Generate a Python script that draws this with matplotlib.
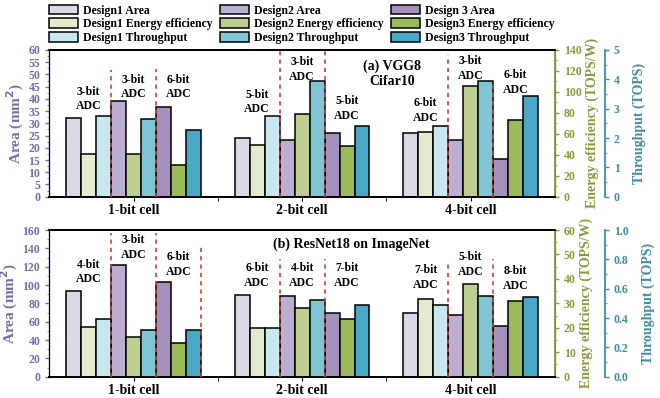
import numpy as np
import matplotlib
matplotlib.use("Agg")
import matplotlib.pyplot as plt
from matplotlib.patches import Patch
from matplotlib.ticker import MultipleLocator

plt.rcParams['font.family'] = ['Liberation Serif', 'DejaVu Serif']
plt.rcParams['font.weight'] = 'bold'

cells = ['1-bit cell', '2-bit cell', '4-bit cell']
designs = ['Design1', 'Design2', 'Design3']

# VGG8 / Cifar10
vgg_area = [[32.0, 24.1, 26.1], [39.0, 23.1, 23.1], [36.6, 26.2, 15.5]]
vgg_ee = [[41, 49, 62], [41, 79, 106], [30.5, 48, 73.5]]
vgg_tp = [[2.74, 2.76, 2.40], [2.65, 3.94, 3.94], [2.27, 2.41, 3.44]]
vgg_adc = [['3-bit', '5-bit', '6-bit'], ['3-bit', '3-bit', '3-bit'], ['6-bit', '5-bit', '6-bit']]

# ResNet18 / ImageNet
res_area = [[93.1, 88.8, 69.1], [121.5, 88.0, 67.6], [103.3, 69.1, 55.3]]
res_ee = [[20.5, 20.0, 31.8], [16.4, 28.0, 37.9], [13.8, 23.5, 30.8]]
res_tp = [[0.39, 0.33, 0.49], [0.32, 0.52, 0.55], [0.32, 0.49, 0.54]]
res_adc = [['4-bit', '6-bit', '7-bit'], ['3-bit', '4-bit', '5-bit'], ['6-bit', '7-bit', '8-bit']]

area_colors = ['#dcd8e8', '#bcaed0', '#a592bc']
ee_colors = ['#e2ebcd', '#bccf91', '#9bba5a']
tp_colors = ['#c9e7ee', '#80c5d4', '#47a9c7']

c_area = '#7b6aa8'
c_ee = '#8c9a3a'
c_tp = '#3f8ea5'
c_red = '#d0403a'

W = 0.8 / 9


def draw_panel(fig, rect, area, ee, tp, adc, ylims, steps, title, title_xy,
               label_y, line_tops):
    ax = fig.add_axes(rect)
    ax2 = ax.twinx()
    ax3 = ax.twinx()
    x = np.arange(len(cells))
    start = x - 0.4 + W / 2
    for d in range(3):
        ax.bar(start + (3 * d) * W, area[d], W, color=area_colors[d],
               edgecolor='black', linewidth=1.1)
        ax2.bar(start + (3 * d + 1) * W, ee[d], W, color=ee_colors[d],
                edgecolor='black', linewidth=1.1)
        ax3.bar(start + (3 * d + 2) * W, tp[d], W, color=tp_colors[d],
                edgecolor='black', linewidth=1.1)

    trans = ax3.get_xaxis_transform()
    for g in range(3):
        for d in range(3):
            cx = x[g] - 0.4 + (3 * d + 1.5) * W
            ax3.text(cx, label_y[g][d], adc[d][g] + '\nADC', transform=trans,
                     ha='center', va='center', fontsize=8.5,
                     fontweight='bold', linespacing=1.3)
        for xb, top in line_tops[g]:
            bx = x[g] - 0.4 + xb * W
            ax3.plot([bx, bx], [0, top], transform=trans, color=c_red,
                     linestyle=(0, (2.5, 2.5)), linewidth=1.2, zorder=5)

    ax3.text(title_xy[0], title_xy[1], title, transform=ax.transAxes,
             ha='center', va='center', fontsize=10, fontweight='bold')

    ax.set_xlim(-0.5, 2.5)
    ax.set_xticks(x)
    ax.set_xticklabels(cells, fontsize=10, fontweight='bold')
    ax.set_xticks([0.5, 1.5], minor=True)
    ax.tick_params(axis='x', which='both', length=3, direction='out', pad=2)

    ax.set_ylim(0, ylims[0])
    ax2.set_ylim(0, ylims[1])
    ax3.set_ylim(0, ylims[2])
    ax.yaxis.set_major_locator(MultipleLocator(steps[0]))
    ax.yaxis.set_minor_locator(MultipleLocator(steps[0] / 2))
    ax2.yaxis.set_major_locator(MultipleLocator(steps[1]))
    ax2.yaxis.set_minor_locator(MultipleLocator(steps[1] / 2))
    ax3.yaxis.set_major_locator(MultipleLocator(steps[2]))
    ax3.yaxis.set_minor_locator(MultipleLocator(steps[2] / 2))

    ax.tick_params(axis='y', which='major', colors=c_area, labelsize=8.5,
                   length=3, width=1)
    ax.tick_params(axis='y', which='minor', colors=c_area, length=1.5)
    ax2.tick_params(axis='y', which='major', colors=c_ee, labelsize=8.5,
                    length=3, width=1)
    ax2.tick_params(axis='y', which='minor', colors=c_ee, length=1.5)
    ax3.tick_params(axis='y', which='major', colors=c_tp, labelsize=8.5,
                    length=3, width=1)
    ax3.tick_params(axis='y', which='minor', colors=c_tp, length=1.5)
    for a in (ax, ax2, ax3):
        for lab in a.get_yticklabels():
            lab.set_fontweight('bold')

    if ylims[2] < 2:
        ax3.yaxis.set_major_formatter(lambda v, p: f'{v:.1f}')

    ax3.spines['right'].set_position(('outward', 36))
    ax3.spines['right'].set_color(c_tp)
    ax3.spines['right'].set_linewidth(1.3)
    ax2.spines['right'].set_color(c_ee)
    ax2.spines['right'].set_linewidth(1.3)
    ax.spines['left'].set_color(c_area)
    for a in (ax, ax2, ax3):
        a.spines['top'].set_linewidth(1.1)
        a.spines['bottom'].set_linewidth(1.1)

    ax.set_ylabel('Area (mm$^\\mathbf{2}$)', color=c_area, fontsize=11,
                  fontweight='bold', labelpad=2)
    ax2.set_ylabel('Energy efficiency (TOPS/W)', color=c_ee, fontsize=10,
                   fontweight='bold', labelpad=3)
    ax3.set_ylabel('Throughput (TOPS)', color=c_tp, fontsize=10,
                   fontweight='bold', labelpad=9)
    return ax


fig = plt.figure(figsize=(6.6, 3.98), dpi=100)

# (x in bar slots, top in axes fraction) for dashed separators
top_lines = [[(3, 0.864), (6, 0.87)], [(3, 1.0), (6, 1.0)],
             [(3, 0.966), (6, 0.795)]]
bot_lines = [[(3, 0.98), (6, 0.98), (9, 0.9)], [(3, 0.8), (6, 0.8)],
             [(3, 0.785), (6, 0.8)]]

draw_panel(fig, [0.0747, 0.5058, 0.766, 0.3686], vgg_area, vgg_ee, vgg_tp,
           vgg_adc, (60, 140, 5), (5, 20, 1), '(a) VGG8\nCifar10',
           (0.678, 0.838),
           [[0.666, 0.748, 0.748], [0.646, 0.867, 0.601],
            [0.588, 0.874, 0.779]], top_lines)

draw_panel(fig, [0.0747, 0.0535, 0.766, 0.3686], res_area, res_ee, res_tp,
           res_adc, (160, 60, 1.0), (20, 10, 0.2),
           '(b) ResNet18 on ImageNet', (0.597, 0.905),
           [[0.714, 0.882, 0.763], [0.69, 0.69, 0.69],
            [0.675, 0.764, 0.668]], bot_lines)

labels = []
handles = []
for d in range(3):
    name = 'Design 3' if d == 2 else designs[d]
    handles.append(Patch(facecolor=area_colors[d], edgecolor='black', linewidth=1.1))
    labels.append(name + ' Area')
    handles.append(Patch(facecolor=ee_colors[d], edgecolor='black', linewidth=1.1))
    labels.append(designs[d] + ' Energy efficiency')
    handles.append(Patch(facecolor=tp_colors[d], edgecolor='black', linewidth=1.1))
    labels.append(designs[d] + ' Throughput')

fig.legend(handles, labels, ncol=3, loc='upper left',
           bbox_to_anchor=(0.058, 1.015), frameon=False,
           prop={'size': 8.5, 'weight': 'bold'},
           handlelength=2.5, handleheight=0.9, handletextpad=0.4,
           columnspacing=0.6, labelspacing=0.15)

fig.savefig('out.png', dpi=100)
